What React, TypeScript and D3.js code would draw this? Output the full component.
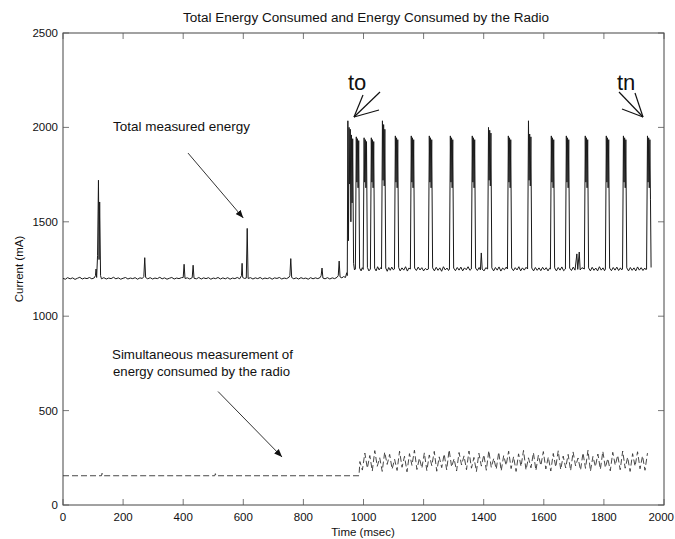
import React from "react";
import * as d3 from "d3";

const W = 675;
const H = 539;

const xTicks = [0, 200, 400, 600, 800, 1000, 1200, 1400, 1600, 1800, 2000];
const yTicks = [0, 500, 1000, 1500, 2000, 2500];

const titleText = "Total Energy Consumed and Energy Consumed by the Radio";
const xLabel = "Time (msec)";
const yLabel = "Current (mA)";

// Total measured current [time ms, current mA]
const totalTrace: [number, number][] = [
  [0,1200],[8,1196],[15,1204],[24,1198],[32,1203],[40,1195],[48,1201],[56,1206],[64,1197],[72,1202],[80,1199],[88,1205],[96,1198],[104,1203],
  [108,1215],[110,1250],[112,1205],[115,1320],[118,1720],[120,1300],[122,1605],[125,1215],[128,1198],[136,1204],[144,1197],[152,1202],[160,1199],
  [168,1206],[176,1198],[184,1203],[192,1196],[200,1201],[208,1205],[216,1197],[224,1202],[232,1199],[240,1204],[248,1196],[256,1203],[264,1200],
  [269,1210],[272,1310],[275,1205],[282,1198],[290,1204],[298,1197],[306,1202],[314,1199],[322,1206],[330,1198],[338,1203],[346,1196],[354,1201],
  [362,1205],[370,1197],[378,1202],[386,1199],[394,1204],[400,1205],[403,1275],[406,1200],[414,1203],[422,1197],[430,1204],[433,1270],[436,1201],
  [444,1198],[452,1205],[460,1197],[468,1203],[476,1199],[484,1204],[492,1196],[500,1202],[508,1199],[516,1205],[524,1197],[532,1203],[540,1198],
  [548,1204],[556,1196],[564,1202],[572,1199],[580,1205],[588,1198],[594,1215],[596,1280],[598,1205],[604,1200],[610,1202],[613,1465],[616,1200],
  [624,1204],[632,1197],[640,1203],[648,1199],[656,1205],[664,1197],[672,1202],[680,1199],[688,1204],[696,1196],[704,1203],[712,1200],[720,1205],
  [728,1197],[736,1202],[744,1199],[752,1206],[755,1215],[758,1305],[761,1205],[768,1198],[776,1203],[784,1197],[792,1204],[800,1199],[808,1202],
  [816,1196],[824,1204],[832,1198],[840,1203],[848,1199],[856,1205],[859,1215],[862,1255],[865,1202],[872,1198],[880,1204],[888,1197],[896,1203],
  [904,1199],[912,1206],[916,1215],[919,1292],[922,1208],[928,1203],[934,1210],[940,1205],[944,1230],
  [946,1215],[948,2035],[950,1400],[952,2000],[954,1700],[956,1990],[958,1500],[960,1960],[962,1600],[964,1940],[967,1280],[970,1245],
  [973,1250],[976,1950],[978,1710],[980,1940],[982,1680],[984,1930],[987,1255],[992,1240],[996,1257],
  [999,1248],[1002,1945],[1004,1710],[1006,1935],[1008,1680],[1010,1925],[1013,1258],[1018,1240],
  [1023,1250],[1026,1945],[1028,1710],[1030,1935],[1032,1680],[1034,1925],[1037,1254],[1042,1240],[1047,1262],[1052,1245],[1057,1257],
  [1060,1250],[1063,2035],[1065,1720],[1067,2015],[1069,1690],[1071,1990],[1074,1255],[1079,1238],[1084,1258],[1089,1243],[1094,1260],[1099,1246],
  [1103,1250],[1106,1955],[1108,1710],[1110,1945],[1112,1680],[1114,1935],[1117,1258],[1122,1240],[1128,1256],[1134,1244],[1140,1262],[1146,1239],[1151,1255],
  [1156,1250],[1159,1955],[1161,1710],[1163,1945],[1165,1680],[1167,1935],[1170,1255],[1176,1242],[1182,1260],[1188,1245],[1194,1257],[1200,1240],[1206,1253],[1211,1246],
  [1216,1250],[1219,1955],[1221,1710],[1223,1945],[1225,1680],[1227,1935],[1230,1256],[1236,1240],[1242,1259],[1248,1243],[1254,1256],[1260,1238],[1266,1262],[1272,1245],[1278,1255],[1283,1242],
  [1286,1250],[1289,1955],[1291,1710],[1293,1945],[1295,1680],[1297,1935],[1300,1255],[1306,1241],[1312,1258],[1318,1244],[1324,1260],[1330,1240],[1336,1256],[1342,1246],[1348,1262],[1354,1243],
  [1359,1250],[1362,1955],[1364,1710],[1366,1945],[1368,1680],[1370,1935],[1373,1255],[1379,1242],[1385,1258],[1389,1245],[1392,1335],[1395,1250],[1401,1240],[1407,1257],
  [1413,1250],[1416,2000],[1418,1720],[1420,1985],[1422,1690],[1424,1970],[1427,1256],[1433,1240],[1439,1258],[1445,1244],[1451,1261],[1457,1239],[1463,1255],[1469,1246],[1475,1260],
  [1479,1250],[1482,1955],[1484,1710],[1486,1945],[1488,1680],[1490,1935],[1493,1255],[1499,1241],[1505,1257],[1511,1245],[1517,1262],[1523,1240],[1529,1256],[1535,1244],[1541,1259],
  [1546,1250],[1549,2035],[1551,1720],[1553,1965],[1555,1690],[1557,1950],[1560,1255],[1566,1240],[1572,1258],[1578,1243],[1584,1256],[1590,1241],[1596,1259],[1602,1245],[1608,1257],[1614,1240],[1619,1254],
  [1622,1250],[1625,1955],[1627,1710],[1629,1945],[1631,1680],[1633,1935],[1636,1256],[1642,1240],[1648,1258],[1654,1244],[1660,1261],[1666,1241],
  [1672,1250],[1675,1955],[1677,1710],[1679,1945],[1681,1680],[1683,1935],[1686,1255],[1692,1242],[1698,1260],[1704,1244],[1710,1330],[1713,1248],[1718,1340],[1721,1245],[1727,1257],
  [1735,1250],[1738,1955],[1740,1710],[1742,1945],[1744,1680],[1746,1935],[1749,1256],[1755,1240],[1761,1259],[1767,1243],[1773,1255],[1779,1240],[1785,1262],[1791,1244],[1797,1256],[1802,1241],
  [1805,1250],[1808,1955],[1810,1710],[1812,1945],[1814,1680],[1816,1935],[1819,1255],[1825,1241],[1831,1258],[1837,1244],[1843,1260],[1849,1242],[1855,1256],[1859,1245],
  [1862,1250],[1865,1955],[1867,1710],[1869,1945],[1871,1680],[1873,1935],[1876,1256],[1882,1240],[1888,1258],[1894,1243],[1900,1256],[1906,1240],[1912,1261],[1918,1244],[1924,1257],[1930,1242],[1936,1255],[1940,1246],
  [1942,1250],[1945,1955],[1947,1710],[1949,1945],[1951,1680],[1953,1935],[1955,1620],[1957,1258]
];

// Radio current before transmissions start [time ms, current mA]
const radioIdle: [number, number][] = [
  [0,155],[128,155],[130,168],[132,155],[505,155],[507,166],[509,155],[985,155]
];

// Radio current during transmissions (sampled from 988 ms to 1945 ms)
const radioBandStart = 988;
const radioBandEnd = 1945;
const radioBand = [
  230,185,275,195,262,180,288,205,250,178,280,215,268,190,242,183,285,200,258,176,
  272,210,290,188,248,195,276,182,265,208,284,179,255,198,270,186,292,202,245,180,
  278,212,260,187,286,195,252,177,274,206,266,184,288,199,247,190,280,181,262,210,
  285,193,256,178,271,204,289,186,250,197,277,183,264,209,283,191,254,180,273,201,
  287,188,259,196,268,182,281,207,249,185,276,194,290,179,257,203,270,189,284,198,
  246,181,279,211,263,187,286,195,253,178,272,205,282,192,260,184,275
];

const FONT = "'Liberation Sans', Arial, Helvetica, sans-serif";

export default function App() {
  const x = d3.scaleLinear().domain([0, 2000]).range([63, 664]);
  const y = d3.scaleLinear().domain([0, 2500]).range([505, 33]);
  const line = d3.line<[number, number]>().x((d) => x(d[0])).y((d) => y(d[1]));

  const step = (radioBandEnd - radioBandStart) / (radioBand.length - 1);
  const radioAll: [number, number][] = [
    ...radioIdle,
    ...radioBand.map((v, i) => [radioBandStart + i * step, v] as [number, number]),
  ];

  const x0 = x(0), x1 = x(2000), y0 = y(0), y1 = y(2500);
  const tl = 6;

  return (
    <svg width={W} height={H} style={{ display: "block", position: "absolute", left: 0, top: 0, background: "#fff" }}>
      <defs>
        <marker id="ah" viewBox="0 0 10 10" refX="10" refY="5" markerWidth="8" markerHeight="8" markerUnits="userSpaceOnUse" orient="auto">
          <path d="M0,1 L10,5 L0,9 Z" fill="#111" />
        </marker>
      </defs>
      <rect x={0} y={0} width={W} height={H} fill="#fff" />
      {/* title */}
      <text x={366} y={22} textAnchor="middle" fontFamily={FONT} fontSize={12.5} fill="#111" textLength={366} lengthAdjust="spacingAndGlyphs">{titleText}</text>

      {/* frame */}
      <rect x={x0} y={y1} width={x1 - x0} height={y0 - y1} fill="none" stroke="#444" strokeWidth={1} />
      {xTicks.map((t) => (
        <g key={"xt" + t}>
          <line x1={x(t)} x2={x(t)} y1={y0} y2={y0 - tl} stroke="#555" strokeWidth={0.8} />
          <line x1={x(t)} x2={x(t)} y1={y1} y2={y1 + tl} stroke="#555" strokeWidth={0.8} />
          <text x={t === 2000 ? 674 : x(t)} y={521} textAnchor={t === 2000 ? "end" : "middle"} fontFamily={FONT} fontSize={11.5} fill="#111">{t}</text>
        </g>
      ))}
      {yTicks.map((v) => (
        <g key={"yt" + v}>
          <line x1={x0} x2={x0 + tl} y1={y(v)} y2={y(v)} stroke="#555" strokeWidth={0.8} />
          <line x1={x1} x2={x1 - tl} y1={y(v)} y2={y(v)} stroke="#555" strokeWidth={0.8} />
          <text x={58} y={y(v) + 4} textAnchor="end" fontFamily={FONT} fontSize={11.5} fill="#111">{v}</text>
        </g>
      ))}
      <text x={363} y={536} textAnchor="middle" fontFamily={FONT} fontSize={11.5} fill="#111">{xLabel}</text>
      <text transform={`translate(23,${(y0 + y1) / 2}) rotate(-90)`} textAnchor="middle" fontFamily={FONT} fontSize={11.5} fill="#111">{yLabel}</text>

      {/* data */}
      <path d={line(radioAll) || ""} fill="none" stroke="#333" strokeWidth={0.9} strokeDasharray="6,3" />
      <path d={line(totalTrace) || ""} fill="none" stroke="#1a1a1a" strokeWidth={1} />

      {/* annotations */}
      <text x={113} y={131} fontFamily={FONT} fontSize={13} fill="#111" textLength={137} lengthAdjust="spacingAndGlyphs">Total measured energy</text>
      <line x1={x(416)} y1={y(1864)} x2={x(600)} y2={y(1520)} stroke="#333" strokeWidth={1} markerEnd="url(#ah)" />
      <text x={112} y={359} fontFamily={FONT} fontSize={13} fill="#111" textLength={181} lengthAdjust="spacingAndGlyphs">Simultaneous measurement of</text>
      <text x={113} y={376} fontFamily={FONT} fontSize={13} fill="#111" textLength={177} lengthAdjust="spacingAndGlyphs">energy consumed by the radio</text>
      <line x1={x(516)} y1={y(601)} x2={x(729)} y2={y(254)} stroke="#333" strokeWidth={1} markerEnd="url(#ah)" />

      <text x={348} y={90} fontFamily={FONT} fontSize={22} fill="#111">to</text>
      <g stroke="#111" strokeWidth={1.2} fill="none">
        <line x1={380} y1={92} x2={354} y2={117} />
        <line x1={363} y1={95} x2={354} y2={117} />
        <line x1={379} y1={110} x2={354} y2={117} />
      </g>
      <text x={617} y={90} fontFamily={FONT} fontSize={22} fill="#111">tn</text>
      <g stroke="#111" strokeWidth={1.2} fill="none">
        <line x1={619} y1={92} x2={643} y2={117} />
        <line x1={635} y1={93} x2={643} y2={117} />
        <line x1={622} y1={109} x2={643} y2={117} />
      </g>
    </svg>
  );
}
